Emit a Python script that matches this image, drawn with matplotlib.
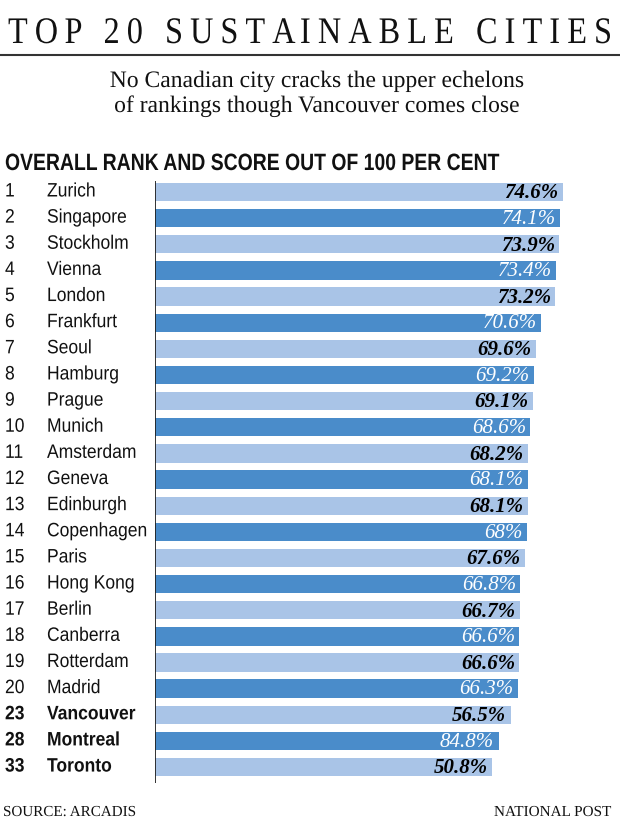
import matplotlib
matplotlib.use('Agg')
import matplotlib.pyplot as plt
from matplotlib.transforms import blended_transform_factory, Affine2D
from matplotlib.font_manager import FontProperties
from matplotlib.patheffects import AbstractPathEffect

W, H = 620, 830

ranks = ['1', '2', '3', '4', '5', '6', '7', '8', '9', '10', '11', '12', '13', '14',
         '15', '16', '17', '18', '19', '20', '23', '28', '33']
cities = ['Zurich', 'Singapore', 'Stockholm', 'Vienna', 'London', 'Frankfurt', 'Seoul',
          'Hamburg', 'Prague', 'Munich', 'Amsterdam', 'Geneva', 'Edinburgh', 'Copenhagen',
          'Paris', 'Hong Kong', 'Berlin', 'Canberra', 'Rotterdam', 'Madrid',
          'Vancouver', 'Montreal', 'Toronto']
# printed labels
score_labels = ['74.6%', '74.1%', '73.9%', '73.4%', '73.2%', '70.6%', '69.6%', '69.2%',
                '69.1%', '68.6%', '68.2%', '68.1%', '68.1%', '68%', '67.6%', '66.8%',
                '66.7%', '66.6%', '66.6%', '66.3%', '56.5%', '84.8%', '50.8%']
# bar lengths as drawn in the graphic (canadian bars are not to scale in the original)
bar_len = [74.6, 74.1, 73.9, 73.4, 73.2, 70.6, 69.6, 69.2, 69.1, 68.6, 68.2, 68.1, 68.1,
           68.0, 67.6, 66.8, 66.7, 66.6, 66.6, 66.3, 65.0, 62.8, 61.7]
highlight = ['Vancouver', 'Montreal', 'Toronto']

light = '#a9c4e7'
dark = '#4a8cca'
ink = '#111111'

sans = ['Liberation Sans', 'DejaVu Sans']
serif = ['Liberation Serif', 'DejaVu Serif']


class Squeeze(AbstractPathEffect):
    """narrow the text horizontally (no condensed fonts installed)"""

    def __init__(self, sx):
        super().__init__()
        self.sx = sx

    def draw_path(self, renderer, gc, tpath, affine, rgbFace=None):
        renderer.draw_path(gc, tpath, Affine2D().scale(self.sx, 1) + affine, rgbFace)


def fx(x):
    return x / W


def fy(y):
    return 1 - y / H


fig = plt.figure(figsize=(W / 100, H / 100), dpi=100)
fig.patch.set_facecolor('white')
renderer = fig.canvas.get_renderer()


def text_w(s, prop):
    w, h, d = renderer.get_text_width_height_descent(s, prop, ismath=False)
    return w


def squeezed(x, y, s, prop, sx, ha='left'):
    w = text_w(s, prop) * sx
    if ha == 'center':
        x -= w / 2
    elif ha == 'right':
        x -= w
    fig.text(fx(x), fy(y), s, fontproperties=prop, ha='left', va='baseline',
             color=ink, path_effects=[Squeeze(sx)])


# bar axes, x from 155px, 5.47 px per point
ax_top, ax_bot = 181, 783
ax = fig.add_axes([fx(155), fy(ax_bot), fx(W - 155), (ax_bot - ax_top) / H])
ax.set_xlim(0, (W - 155) / 5.47)
ax.set_ylim(22.61, -0.42)
for i, v in enumerate(bar_len):
    ax.barh(i, v, height=0.7, color=light if i % 2 == 0 else dark, edgecolor='none')
ax.axis('off')
ax.axvline(0, color='#222222', lw=1.3)

for i, lab in enumerate(score_labels):
    ax.text(bar_len[i] - 0.8, i + 0.05, lab, ha='right', va='center',
            fontsize=15, style='italic', fontweight='bold' if i % 2 == 0 else 'normal',
            family=serif, color='black' if i % 2 == 0 else 'white')

tr = blended_transform_factory(fig.transFigure, ax.transData)
for i, (r, c) in enumerate(zip(ranks, cities)):
    wt = 'bold' if c in highlight else 'normal'
    for xp, s in [(5, r), (47, c)]:
        fig.text(fx(xp), i, s, transform=tr, ha='left', va='center', fontsize=14,
                 family=sans, fontweight=wt, color=ink, path_effects=[Squeeze(0.9)])

# letter-spaced title
title = 'TOP 20 SUSTAINABLE CITIES'
tprop = FontProperties(family=serif, size=27)
tsx = 0.86
x0, x1 = 8, 612
natural = text_w(title, tprop) * tsx
gap = (x1 - x0 - natural) / (len(title) - 1)
for k, ch in enumerate(title):
    xpos = x0 + (text_w(title[:k], tprop) * tsx if k > 0 else 0) + k * gap
    fig.text(fx(xpos), fy(43), ch, fontproperties=tprop, ha='left', va='baseline',
             color=ink, path_effects=[Squeeze(tsx)])

fig.add_artist(plt.Line2D([0, 1], [fy(55), fy(55)], color='#333333', lw=1.5,
                          transform=fig.transFigure))

sub = FontProperties(family=serif, size=17)
squeezed(317, 87, 'No Canadian city cracks the upper echelons', sub, 1.0, 'center')
squeezed(317, 112, 'of rankings though Vancouver comes close', sub, 1.0, 'center')

head = FontProperties(family=sans, size=17, weight='bold')
hs = 'OVERALL RANK AND SCORE OUT OF 100 PER CENT'
squeezed(5, 170, hs, head, 495 / text_w(hs, head))

foot = FontProperties(family=serif, size=11)
squeezed(3, 816, 'SOURCE: ARCADIS', foot, 133 / text_w('SOURCE: ARCADIS', foot))
squeezed(611, 816, 'NATIONAL POST', foot, 117 / text_w('NATIONAL POST', foot), 'right')

fig.savefig('out.png', dpi=100)
